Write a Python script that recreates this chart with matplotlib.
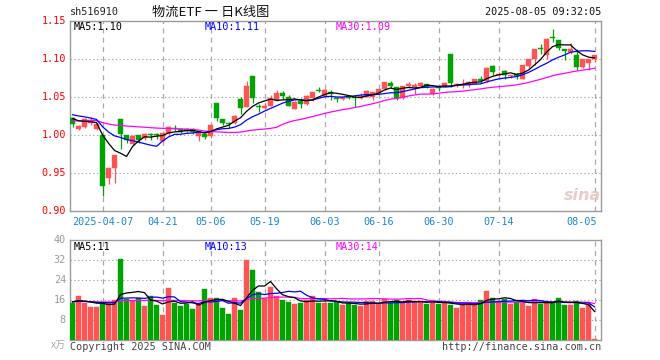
import numpy as np
import matplotlib
matplotlib.use("Agg")
import matplotlib.pyplot as plt
from matplotlib.patches import Rectangle

# ---------------- data ----------------
dates = ["03-28", "03-31", "04-01", "04-02", "04-03", "04-07", "04-08", "04-09", "04-10", "04-11",
         "04-14", "04-15", "04-16", "04-17", "04-18", "04-21", "04-22", "04-23", "04-24", "04-25",
         "04-28", "04-29", "04-30", "05-06", "05-07", "05-08", "05-09", "05-12", "05-13", "05-14",
         "05-15", "05-16", "05-19", "05-20", "05-21", "05-22", "05-23", "05-26", "05-27", "05-28",
         "05-29", "05-30", "06-03", "06-04", "06-05", "06-06", "06-09", "06-10", "06-11", "06-12",
         "06-13", "06-16", "06-17", "06-18", "06-19", "06-20", "06-23", "06-24", "06-25", "06-26",
         "06-27", "06-30", "07-01", "07-02", "07-03", "07-04", "07-07", "07-08", "07-09", "07-10",
         "07-11", "07-14", "07-15", "07-16", "07-17", "07-18", "07-21", "07-22", "07-23", "07-24",
         "07-25", "07-28", "07-29", "07-30", "07-31", "08-01", "08-04", "08-05"]

opens = [1.0224, 1.0087, 1.0107, 1.0158, 1.0083, 1.0000, 0.9442, 0.9574, 1.0214, 1.0000,
         0.9882, 1.0000, 0.9960, 1.0013, 1.0015, 0.9929, 1.0026, 1.0092, 1.0083, 1.0083,
         1.0080, 0.9987, 1.0020, 0.9995, 1.0425, 1.0214, 1.0158, 1.0158, 1.0478, 1.0376,
         1.0780, 1.0390, 1.0363, 1.0390, 1.0460, 1.0553, 1.0508, 1.0346, 1.0450, 1.0408,
         1.0495, 1.0590, 1.0513, 1.0574, 1.0485, 1.0478, 1.0517, 1.0510, 1.0495, 1.0508,
         1.0500, 1.0560, 1.0605, 1.0688, 1.0636, 1.0487, 1.0650, 1.0630, 1.0650, 1.0670,
         1.0540, 1.0625, 1.0645, 1.1070, 1.0655, 1.0660, 1.0658, 1.0680, 1.0737, 1.0710,
         1.0908, 1.0795, 1.0846, 1.0775, 1.0803, 1.0745, 1.0910, 1.1008, 1.1150, 1.1053,
         1.1295, 1.1250, 1.1132, 1.1100, 1.1053, 1.0899, 1.0955, 1.1008]
highs = [1.0235, 1.0135, 1.0224, 1.0237, 1.0160, 1.0005, 0.9575, 0.9745, 1.0220, 1.0005,
         1.0000, 1.0005, 1.0026, 1.0030, 1.0035, 1.0030, 1.0122, 1.0132, 1.0090, 1.0090,
         1.0092, 1.0040, 1.0030, 1.0140, 1.0430, 1.0220, 1.0170, 1.0270, 1.0503, 1.0714,
         1.0785, 1.0412, 1.0420, 1.0531, 1.0596, 1.0584, 1.0534, 1.0450, 1.0485, 1.0530,
         1.0575, 1.0640, 1.0615, 1.0590, 1.0510, 1.0510, 1.0530, 1.0530, 1.0560, 1.0590,
         1.0575, 1.0615, 1.0705, 1.0715, 1.0640, 1.0650, 1.0700, 1.0690, 1.0700, 1.0680,
         1.0620, 1.0650, 1.0700, 1.1070, 1.0690, 1.0740, 1.0720, 1.0745, 1.0785, 1.0895,
         1.0925, 1.0835, 1.0865, 1.0790, 1.0815, 1.0925, 1.1010, 1.1140, 1.1195, 1.1280,
         1.1403, 1.1260, 1.1135, 1.1220, 1.1132, 1.1005, 1.1010, 1.1060]
lows = [1.0110, 1.0074, 1.0100, 1.0140, 1.0075, 0.9205, 0.9355, 0.9372, 0.9816, 0.9895,
        0.9870, 0.9895, 0.9934, 0.9940, 0.9945, 0.9915, 1.0000, 1.0053, 1.0030, 1.0040,
        1.0020, 0.9930, 0.9947, 0.9970, 1.0190, 1.0130, 1.0092, 1.0150, 1.0284, 1.0370,
        1.0420, 1.0307, 1.0340, 1.0385, 1.0455, 1.0480, 1.0380, 1.0340, 1.0360, 1.0400,
        1.0450, 1.0565, 1.0500, 1.0470, 1.0440, 1.0470, 1.0480, 1.0376, 1.0480, 1.0500,
        1.0460, 1.0550, 1.0600, 1.0620, 1.0465, 1.0480, 1.0620, 1.0540, 1.0640, 1.0620,
        1.0535, 1.0580, 1.0640, 1.0640, 1.0630, 1.0620, 1.0640, 1.0670, 1.0690, 1.0700,
        1.0790, 1.0785, 1.0745, 1.0750, 1.0745, 1.0740, 1.0880, 1.0930, 1.1075, 1.1000,
        1.1227, 1.1120, 1.0987, 1.1070, 1.0855, 1.0890, 1.0865, 1.0960]
closes = [1.0145, 1.0122, 1.0214, 1.0201, 1.0155, 0.9337, 0.9570, 0.9740, 1.0020, 0.9938,
          0.9990, 0.9938, 1.0013, 1.0000, 1.0005, 1.0026, 1.0110, 1.0079, 1.0039, 1.0057,
          1.0040, 1.0034, 0.9980, 1.0135, 1.0232, 1.0158, 1.0150, 1.0254, 1.0363, 1.0649,
          1.0487, 1.0372, 1.0390, 1.0487, 1.0560, 1.0518, 1.0390, 1.0438, 1.0412, 1.0521,
          1.0566, 1.0580, 1.0600, 1.0540, 1.0478, 1.0500, 1.0495, 1.0495, 1.0517, 1.0583,
          1.0570, 1.0610, 1.0700, 1.0649, 1.0487, 1.0645, 1.0670, 1.0660, 1.0690, 1.0636,
          1.0613, 1.0618, 1.0685, 1.0692, 1.0680, 1.0680, 1.0700, 1.0737, 1.0715, 1.0890,
          1.0833, 1.0805, 1.0797, 1.0785, 1.0785, 1.0920, 1.1008, 1.1132, 1.1135, 1.1270,
          1.1285, 1.1150, 1.1105, 1.1140, 1.0899, 1.1000, 1.1000, 1.1053]
# closes before the visible window (only feed the moving averages)
prior_closes = [1.012, 1.010, 1.015, 1.018, 1.014, 1.011, 1.016, 1.019, 1.017, 1.013,
                1.012, 1.016, 1.018, 1.015, 1.013, 1.014, 1.017, 1.016, 1.015, 1.016,
                1.028, 1.033, 1.036, 1.034, 1.029, 1.027, 1.025, 1.023, 1.021]

volumes = [14.7, 17.6, 15.0, 13.2, 13.2, 14.4, 15.0, 15.9, 32.4, 16.3,
           15.7, 16.7, 13.6, 17.6, 14.1, 10.1, 20.9, 14.8, 13.6, 14.5,
           12.4, 14.5, 20.5, 16.8, 16.7, 12.9, 10.4, 16.9, 12.0, 32.0,
           28.1, 19.1, 16.7, 21.2, 17.5, 16.1, 15.2, 14.5, 14.8, 16.0,
           17.5, 14.8, 15.0, 15.0, 15.3, 14.0, 14.7, 14.1, 13.7, 15.6,
           15.6, 14.3, 16.3, 15.0, 15.9, 14.7, 15.9, 15.3, 15.2, 14.4,
           15.9, 14.4, 15.0, 14.0, 12.8, 14.4, 15.1, 14.3, 15.9, 19.6,
           16.8, 15.7, 16.5, 14.4, 15.3, 15.0, 13.6, 16.4, 14.4, 15.3,
           15.0, 16.8, 14.0, 14.0, 15.6, 12.8, 14.3, 0.4]
prior_volumes = [15.8, 14.6, 15.2, 16.1, 14.9, 15.5, 15.0, 16.3, 14.8, 15.4,
                 15.9, 14.7, 15.1, 15.6, 14.9, 15.3, 16.0, 15.2, 14.8, 15.5,
                 15.0, 15.7, 14.9, 15.6, 15.2, 15.3, 15.8, 14.9, 15.6]

tick_dates = ["04-07", "04-21", "05-06", "05-19", "06-03", "06-16", "06-30", "07-14", "08-05"]
tick_labels = ["2025-04-07", "04-21", "05-06", "05-19", "06-03", "06-16", "06-30", "07-14", "08-05"]
price_ticks = [0.90, 0.95, 1.00, 1.05, 1.10, 1.15]
volume_ticks = [8, 16, 24, 32, 40]

ma_price_text = ["MA5:1.10", "MA10:1.11", "MA30:1.09"]
ma_volume_text = ["MA5:11", "MA10:13", "MA30:14"]
title_code = "sh516910"
title_name = "物流ETF 一 日K线图"
timestamp = "2025-08-05 09:32:05"

# ---------------- style ----------------
W, H = 660, 360
RED = "#ff5454"
GREEN = "#00a300"
GRID = "#a8a8a8"
FRAME = "#9a9a9a"
DATEC = "#1a86d0"
MONO = "DejaVu Sans Mono"
FS = 7.3

fig = plt.figure(figsize=(W / 100, H / 100), dpi=100)
fig.patch.set_facecolor("white")


def rect(l, t, r, b):
    return [l / W, 1 - b / H, (r - l) / W, (b - t) / H]


def fx(x):
    return x / W


def fy(y):
    return 1 - y / H


n = len(closes)
idx = np.arange(n)
xlim = (-0.42, n + 0.08)
tick_idx = [dates.index(d) for d in tick_dates]


def moving(vals, prior, k):
    allv = np.array(list(prior) + list(vals), dtype=float)
    out = []
    off = len(prior)
    for i in range(n):
        j = off + i
        out.append(allv[max(0, j - k + 1): j + 1].mean())
    return np.array(out)


def style_axes(ax):
    for s in ax.spines.values():
        s.set_color(FRAME)
        s.set_linewidth(1.0)
    ax.tick_params(length=0)
    ax.set_xticks([])
    ax.set_facecolor("white")


# ---------------- price panel ----------------
ax = fig.add_axes(rect(70, 21.3, 601, 211.3))
style_axes(ax)
ax.set_xlim(*xlim)
ax.set_ylim(0.90, 1.15)
ax.set_yticks([])
for p in price_ticks[1:-1]:
    ax.axhline(p, color=GRID, lw=0.8, ls=(0, (1.2, 2.2)), zorder=1)
for ti in tick_idx:
    ax.axvline(ti, color=GRID, lw=0.9, ls=(0, (4, 3.5)), zorder=1)

bw = 0.8
for i in range(n):
    o, h, l, c = opens[i], highs[i], lows[i], closes[i]
    col = RED if c >= o else GREEN
    ax.plot([i, i], [l, h], color=col, lw=0.9, zorder=3, solid_capstyle="butt")
    lo, hi = min(o, c), max(o, c)
    hgt = max(hi - lo, 0.0012)
    ax.add_patch(Rectangle((i - bw / 2, lo), bw, hgt, facecolor=col, edgecolor=col,
                           lw=0.3, zorder=4))

ma5 = moving(closes, prior_closes, 5)
ma10 = moving(closes, prior_closes, 10)
ma30 = moving(closes, prior_closes, 30)
ax.plot(idx, ma30, color="#ff00ff", lw=0.9, zorder=5)
ax.plot(idx, ma10, color="#0000ff", lw=0.9, zorder=5)
ax.plot(idx, ma5, color="#000000", lw=0.9, zorder=5)

# faint sina watermark (lower right of the price panel)
fig.text(fx(582), fy(196), "sina", fontsize=11.5, color="#e6c2c2", style="italic",
         fontweight="bold", ha="center", va="center", alpha=0.85, zorder=2)

for p in price_ticks:
    fig.text(fx(66), fy(211.3 - (p - 0.90) / 0.25 * 190), f"{p:.2f}", color="#ff0000",
             fontsize=FS, family=MONO, ha="right", va="center")

for ti, lab in zip(tick_idx, tick_labels):
    xpix = 72.5 + 6 * ti
    ha = "center"
    if ti == n - 1:
        xpix = 597
        ha = "right"
    fig.text(fx(xpix), fy(222), lab, color=DATEC, fontsize=FS, family=MONO,
             ha=ha, va="center")

for txt, xp, col in zip(ma_price_text, [74, 205, 336], ["#000000", "#0000ff", "#ff00ff"]):
    fig.text(fx(xp), fy(27.5), txt, color=col, fontsize=FS, family=MONO,
             ha="left", va="center")

# ---------------- volume panel ----------------
av = fig.add_axes(rect(70, 240, 601, 340))
style_axes(av)
av.set_xlim(*xlim)
av.set_ylim(0, 40)
av.set_yticks([])
for v in volume_ticks[:-1]:
    av.axhline(v, color=GRID, lw=0.8, ls=(0, (1.2, 2.2)), zorder=1)
for ti in tick_idx:
    av.axvline(ti, color=GRID, lw=0.9, ls=(0, (4, 3.5)), zorder=1)

for i in range(n):
    col = RED if closes[i] >= opens[i] else GREEN
    av.add_patch(Rectangle((i - bw / 2, 0), bw, volumes[i], facecolor=col,
                           edgecolor=col, lw=0.3, zorder=3))

vma5 = moving(volumes, prior_volumes, 5)
vma10 = moving(volumes, prior_volumes, 10)
vma30 = moving(volumes, prior_volumes, 30)
av.plot(idx, vma30, color="#ff00ff", lw=0.9, zorder=5)
av.plot(idx, vma10, color="#0000ff", lw=0.9, zorder=5)
av.plot(idx, vma5, color="#000000", lw=0.9, zorder=5)

for v in volume_ticks:
    fig.text(fx(66), fy(340 - v * 2.5), f"{v}", color="#999999", fontsize=FS,
             family=MONO, ha="right", va="center")
fig.text(fx(66), fy(345), "x万", color="#aaaaaa", fontsize=FS,
         family=["Noto Sans CJK SC", "DejaVu Sans"], ha="right", va="center")

for txt, xp, col in zip(ma_volume_text, [74, 205, 336], ["#000000", "#0000ff", "#ff00ff"]):
    fig.text(fx(xp), fy(246.5), txt, color=col, fontsize=FS, family=MONO,
             ha="left", va="center")

# ---------------- header / footer ----------------
fig.text(fx(70), fy(12), title_code, color="#222222", fontsize=FS, family=MONO,
         ha="left", va="center")
fig.text(fx(211), fy(12), title_name, color="#111111", fontsize=9.5,
         family=["Noto Sans CJK SC", "DejaVu Sans"], ha="center", va="center")
fig.text(fx(601), fy(12), timestamp, color="#111111", fontsize=FS, family=MONO,
         ha="right", va="center")
fig.text(fx(70), fy(347), "Copyright 2025 SINA.COM", color="#444444", fontsize=FS,
         family=MONO, ha="left", va="center")
fig.text(fx(601), fy(347), "http://finance.sina.com.cn", color="#444444", fontsize=FS,
         family=MONO, ha="right", va="center")

fig.savefig("out.png", dpi=100, facecolor="white")
